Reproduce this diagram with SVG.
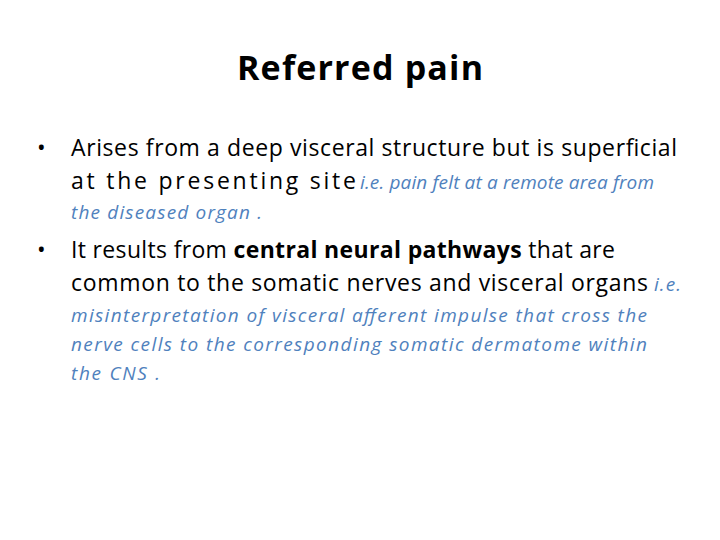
<svg xmlns="http://www.w3.org/2000/svg" width="720" height="540" viewBox="0 0 720 540">
<style>
text{font-family:"Open Sans","Liberation Sans",sans-serif;fill:#000}
.b{font-size:23px}
.i{font-size:19px;font-style:italic;fill:#4F81BD}
</style>
<rect width="720" height="540" fill="#fff"/>
<g id="title"><text x="360" y="80" text-anchor="middle" font-size="34" font-weight="bold" textLength="246">Referred pain</text></g>
<g id="bullet1">
<text x="37" y="156" class="b">•</text>
<text x="71" y="156" class="b" textLength="606">Arises from a deep visceral structure but is superficial</text>
<text x="71" y="189" class="b" textLength="285">at the presenting site</text>
<text x="360" y="189" class="i" textLength="294">i.e. pain felt at a remote area from</text>
<text x="71" y="219" class="i" textLength="191">the diseased organ .</text>
</g>
<g id="bullet2">
<text x="37" y="258" class="b">•</text>
<text x="71" y="258" class="b" textLength="544">It results from <tspan font-weight="bold">central neural pathways</tspan> that are</text>
<text x="71" y="291" class="b" textLength="577">common to the somatic nerves and visceral organs</text>
<text x="654" y="291" class="i" textLength="27">i.e.</text>
<text x="71" y="322" class="i" textLength="576">misinterpretation of visceral afferent impulse that cross the</text>
<text x="71" y="351" class="i" textLength="576">nerve cells to the corresponding somatic dermatome within</text>
<text x="71" y="380" class="i" textLength="89">the CNS .</text>
</g>
</svg>
